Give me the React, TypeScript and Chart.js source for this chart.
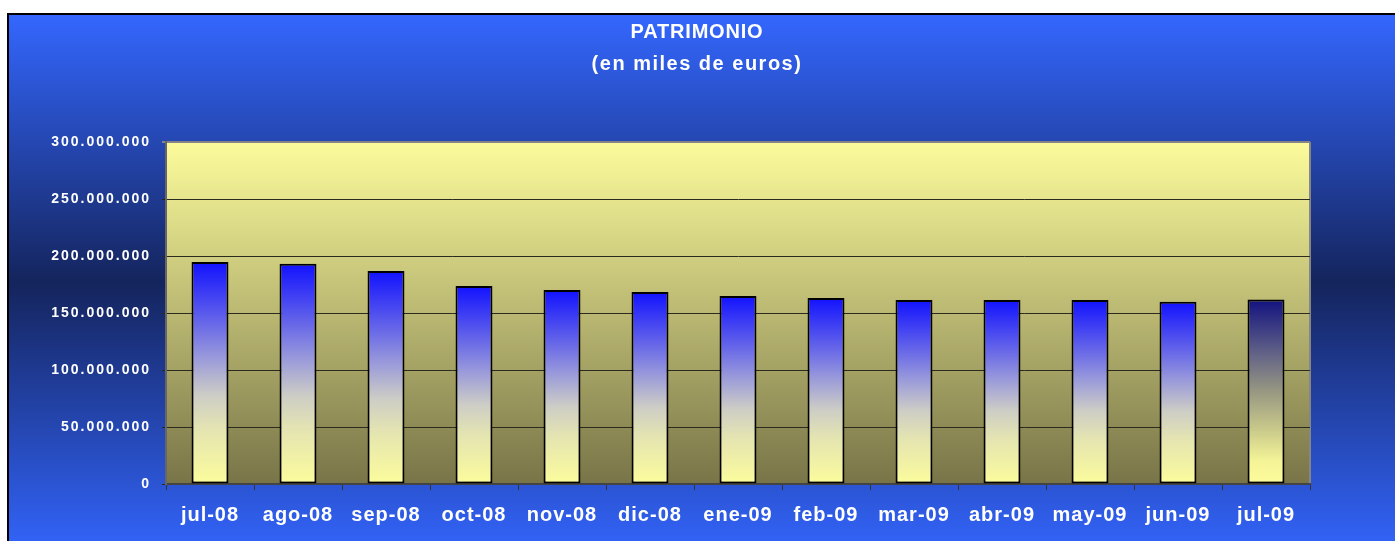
import React, { useEffect, useRef } from "react";
import { Chart, registerables } from "chart.js";

Chart.register(...registerables);

const categories = ["jul-08", "ago-08", "sep-08", "oct-08", "nov-08", "dic-08", "ene-09", "feb-09", "mar-09", "abr-09", "may-09", "jun-09", "jul-09"];
const patrimonio = [194700000, 193200000, 186900000, 173700000, 170200000, 168400000, 164900000, 163200000, 161400000, 161400000, 161400000, 159800000, 161800000];
const yTickValues = [0, 50000000, 100000000, 150000000, 200000000, 250000000, 300000000];
const titleLines = ["PATRIMONIO", "(en miles de euros)"];

const W = 1395;
const H = 541;
const FONT = "'Liberation Sans', Arial, Helvetica, sans-serif";

const fmt = (v: number) => String(Math.round(v)).replace(/\B(?=(\d{3})+(?!\d))/g, ".");

const framePlugin = {
  id: "frame",
  beforeDraw(chart: any) {
    const ctx = chart.ctx as CanvasRenderingContext2D;
    const a = chart.chartArea;
    ctx.save();
    (ctx as any).letterSpacing = "0px";
    ctx.fillStyle = "#ffffff";
    ctx.fillRect(0, 0, W, H);
    const g = ctx.createLinearGradient(0, 14, 0, H);
    g.addColorStop(0, "rgb(52,103,255)");
    g.addColorStop(0.51, "rgb(20,36,92)");
    g.addColorStop(1, "rgb(50,98,245)");
    ctx.fillStyle = g;
    ctx.fillRect(8, 14, W - 8, H - 14);
    ctx.strokeStyle = "#000000";
    ctx.lineWidth = 2;
    ctx.beginPath();
    ctx.moveTo(8, H);
    ctx.lineTo(8, 14);
    ctx.lineTo(W, 14);
    ctx.stroke();

    const pg = ctx.createLinearGradient(0, a.top, 0, a.bottom);
    pg.addColorStop(0, "rgb(252,252,156)");
    pg.addColorStop(1, "rgb(120,116,72)");
    ctx.fillStyle = pg;
    ctx.fillRect(a.left, a.top, a.right - a.left, a.bottom - a.top);
    ctx.strokeStyle = "#858585";
    ctx.lineWidth = 2;
    ctx.beginPath();
    ctx.moveTo(a.right, a.bottom);
    ctx.lineTo(a.right, a.top);
    ctx.stroke();

    ctx.fillStyle = "#ffffff";
    ctx.textAlign = "center";
    ctx.textBaseline = "middle";
    ctx.font = `bold 20px ${FONT}`;
    (ctx as any).letterSpacing = "0.8px";
    ctx.fillText(titleLines[0], 697, 32);
    (ctx as any).letterSpacing = "1.5px";
    ctx.fillText(titleLines[1], 697, 64);
    ctx.restore();
  },
};

const barFill = (c: any) => {
  const chart = c.chart;
  const ys = chart.scales && chart.scales.y;
  const last = c.dataIndex === patrimonio.length - 1;
  if (!chart.chartArea || !ys) return last ? "#4a4a90" : "#6a6ae8";
  const v = patrimonio[c.dataIndex];
  const top = ys.getPixelForValue(v);
  const bottom = ys.getPixelForValue(0);
  const g = chart.ctx.createLinearGradient(0, top, 0, bottom);
  if (last) {
    g.addColorStop(0, "rgb(18,18,128)");
    g.addColorStop(0.3, "rgb(100,100,135)");
    g.addColorStop(0.5, "rgb(152,152,130)");
    g.addColorStop(0.72, "rgb(205,205,140)");
    g.addColorStop(0.88, "rgb(245,245,152)");
    g.addColorStop(1, "rgb(252,252,156)");
  } else {
    g.addColorStop(0, "rgb(18,18,255)");
    g.addColorStop(0.28, "rgb(105,105,232)");
    g.addColorStop(0.42, "rgb(150,150,220)");
    g.addColorStop(0.6, "rgb(205,205,198)");
    g.addColorStop(0.75, "rgb(228,228,178)");
    g.addColorStop(1, "rgb(252,252,156)");
  }
  return g;
};

export default function App() {
  const ref = useRef<HTMLCanvasElement | null>(null);

  useEffect(() => {
    if (!ref.current) return;
    const chart = new Chart(ref.current, {
      type: "bar",
      data: {
        labels: categories,
        datasets: [
          {
            label: "Patrimonio",
            data: patrimonio,
            backgroundColor: barFill as any,
            borderColor: "#000000",
            borderWidth: 2,
            borderSkipped: false,
            barPercentage: 0.42,
            categoryPercentage: 1,
          },
        ],
      },
      options: {
        responsive: false,
        animation: false,
        devicePixelRatio: 1,
        layout: { padding: { left: 0, right: 85, top: 142, bottom: 0 } },
        plugins: {
          legend: { display: false },
          tooltip: { enabled: false },
          title: { display: false },
        },
        scales: {
          x: {
            afterFit: (s: any) => {
              s.height = 57;
            },
            grid: {
              display: true,
              drawOnChartArea: false,
              drawTicks: true,
              tickLength: 6,
              color: "#333333",
              offset: true,
            },
            border: { display: true, color: "#444444", width: 2 },
            ticks: {
              color: "#ffffff",
              padding: 13,
              maxRotation: 0,
              autoSkip: false,
              font: ((c: any) => {
                c.chart.ctx.letterSpacing = "1px";
                return { family: FONT, size: 20, weight: "bold" };
              }) as any,
            },
          },
          y: {
            min: 0,
            max: 300000000,
            afterFit: (s: any) => {
              s.width = 166;
            },
            afterBuildTicks: (s: any) => {
              s.ticks = yTickValues.map((v) => ({ value: v }));
            },
            grid: {
              color: ((c: any) => (c.tick && c.tick.value === 300000000 ? "#858585" : "#2a2a1e")) as any,
              lineWidth: ((c: any) => (c.tick && c.tick.value === 300000000 ? 2 : 1)) as any,
              drawTicks: true,
              tickLength: 4,
            },
            border: { display: true, color: "#666666", width: 2 },
            ticks: {
              color: "#ffffff",
              padding: 11,
              callback: (v: any) => fmt(Number(v)),
              font: ((c: any) => {
                c.chart.ctx.letterSpacing = "2px";
                return { family: FONT, size: 14, weight: "bold" };
              }) as any,
            },
          },
        },
      },
      plugins: [framePlugin],
    });
    return () => chart.destroy();
  }, []);

  return (
    <div style={{ position: "absolute", left: 0, top: 0, width: W, height: H }}>
      <canvas ref={ref} width={W} height={H} style={{ display: "block", width: W, height: H }} />
    </div>
  );
}
